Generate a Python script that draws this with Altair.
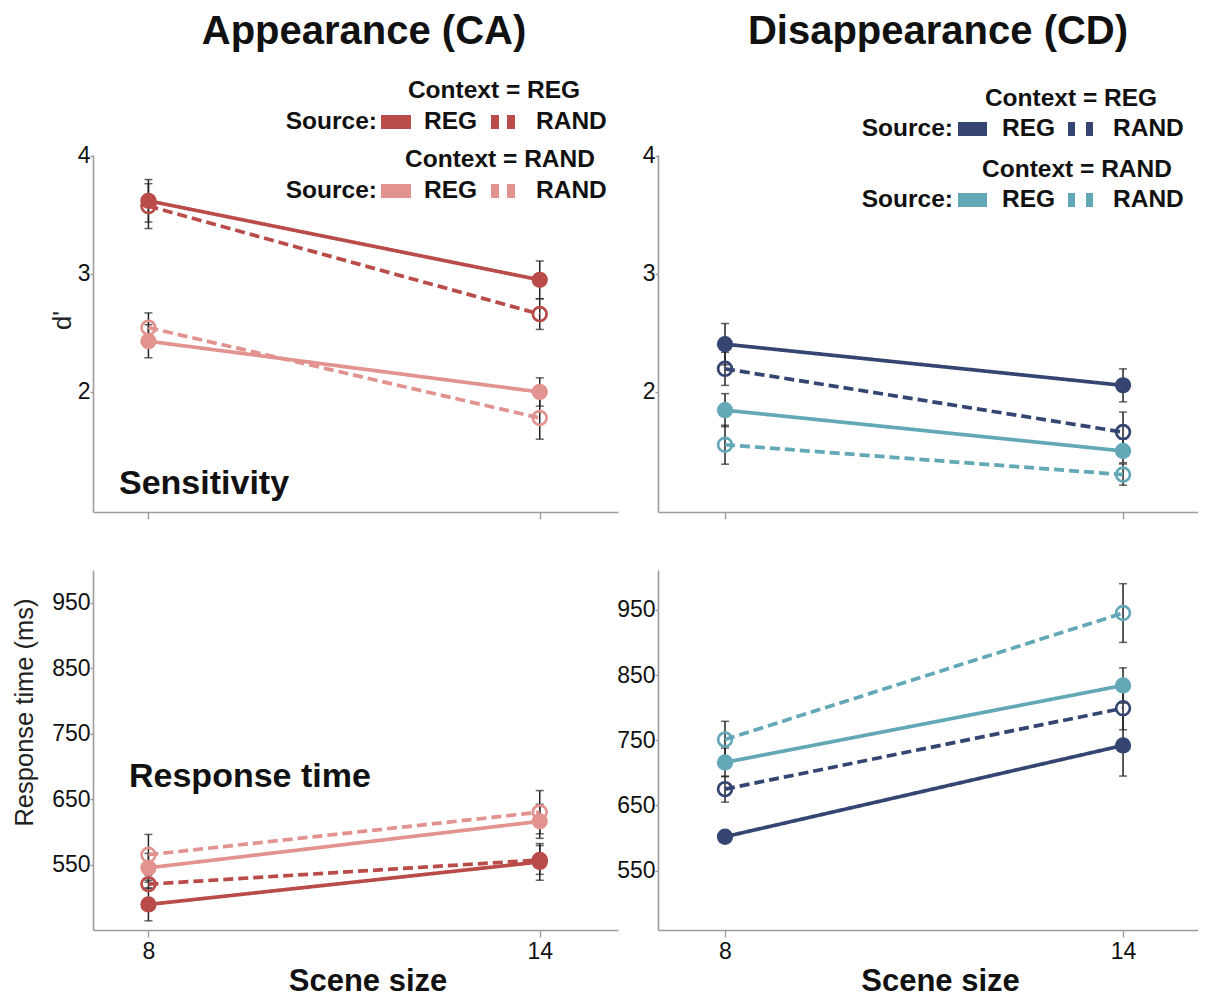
import altair as alt
import pandas as pd

# ---------------- data ----------------
sizes = [8, 14]
contexts = ["REG", "RAND"]
sources = ["REG", "RAND"]

# Appearance (CA) sensitivity d'
ca_d_reg_reg = [3.62, 2.95]
ca_d_reg_reg_se = [0.18, 0.16]
ca_d_reg_rand = [3.575, 2.66]
ca_d_reg_rand_se = [0.19, 0.13]
ca_d_rand_reg = [2.43, 2.00]
ca_d_rand_reg_se = [0.14, 0.12]
ca_d_rand_rand = [2.545, 1.78]
ca_d_rand_rand_se = [0.125, 0.18]

# Disappearance (CD) sensitivity d'
cd_d_reg_reg = [2.405, 2.056]
cd_d_reg_reg_se = [0.175, 0.14]
cd_d_reg_rand = [2.196, 1.66]
cd_d_reg_rand_se = [0.14, 0.17]
cd_d_rand_reg = [1.846, 1.50]
cd_d_rand_reg_se = [0.14, 0.10]
cd_d_rand_rand = [1.553, 1.30]
cd_d_rand_rand_se = [0.165, 0.09]

# Appearance (CA) response time (ms)
ca_rt_reg_reg = [489, 554]
ca_rt_reg_reg_se = [25, 28]
ca_rt_reg_rand = [520, 557]
ca_rt_reg_rand_se = [6, 22]
ca_rt_rand_reg = [545, 616]
ca_rt_rand_reg_se = [22, 26]
ca_rt_rand_rand = [565, 630]
ca_rt_rand_rand_se = [31, 33]

# Disappearance (CD) response time (ms)
cd_rt_reg_reg = [602, 742]
cd_rt_reg_reg_se = [5, 47]
cd_rt_reg_rand = [675, 799]
cd_rt_reg_rand_se = [20, 33]
cd_rt_rand_reg = [716, 834]
cd_rt_rand_reg_se = [22, 27]
cd_rt_rand_rand = [751, 945]
cd_rt_rand_rand_se = [28, 45]

d_ticks = [2, 3, 4]
rt_ticks = [550, 650, 750, 850, 950]

CA_COLORS = ["#b94c49", "#e29390"]
CD_COLORS = ["#334570", "#62a8b7"]

FONT = "Liberation Sans"
AXIS_GRAY = "#a09c9a"
LEG_FS = 24.5


def build_df(series, colors):
    rows = []
    for (ctx, src), (means, ses) in series.items():
        for s, m, e in zip(sizes, means, ses):
            rows.append({"size": s, "context": ctx, "source": src,
                         "series": ctx + "-" + src, "mean": m, "se": e,
                         "col": colors[contexts.index(ctx)]})
    return pd.DataFrame(rows)


one = pd.DataFrame({"k": [0]})


def txt(label, x, y, size, bold=True, align="left"):
    return alt.Chart(one).mark_text(
        text=label, font=FONT, fontSize=size, fontWeight="bold" if bold else "normal",
        align=align, baseline="alphabetic", color="#111"
    ).encode(x=alt.value(x), y=alt.value(y))


def rect(x1, x2, y1, y2, color):
    return alt.Chart(one).mark_rect(color=color).encode(
        x=alt.value(x1), x2=alt.value(x2), y=alt.value(y1), y2=alt.value(y2))


def legend(colors, p):
    layers = []
    for i, ctx in enumerate(contexts):
        c = colors[i]
        base = p["base"][i]
        layers.append(txt("Context = " + ctx, p["ctx_x"][i], base - 30 + p["ctx_dy"], LEG_FS, align="center"))
        layers.append(txt("Source:", p["src_r"], base, LEG_FS, align="right"))
        layers.append(rect(p["sw"][0], p["sw"][1], base - 14, base, c))
        layers.append(txt("REG", p["reg_x"], base, LEG_FS))
        layers.append(rect(p["d1"][0], p["d1"][1], base - 14, base, c))
        layers.append(rect(p["d2"][0], p["d2"][1], base - 14, base, c))
        layers.append(txt("RAND", p["rand_x"], base, LEG_FS))
    return layers


def panel(df, ydom, yticks, xdom, width, height, ytitle, ytitle_y, ytitle_pad, xlabels, extras):
    xs = alt.Scale(domain=xdom, nice=False, zero=False)
    ys = alt.Scale(domain=ydom, nice=False, zero=False)
    xaxis = alt.Axis(values=sizes, labels=xlabels, title="Scene size" if xlabels else None,
                     format="d", grid=False, tickSize=7, labelPadding=3, titlePadding=3,
                     titleX=width / 2 + 12, titleFontSize=31, titleFontWeight="bold",
                     titleFont=FONT, titleColor="#111", labelFontSize=23, labelFont=FONT,
                     labelColor="#111")
    yargs = dict(values=yticks, format="d", grid=False, tickSize=3, labelPadding=0,
                 labelFontSize=23, labelFont=FONT, labelColor="#111",
                 titleFontSize=25.5, titleFontWeight="normal", titleFont=FONT,
                 titleColor="#222", titlePadding=ytitle_pad)
    if ytitle:
        yaxis = alt.Axis(title=ytitle, titleY=ytitle_y, **yargs)
    else:
        yaxis = alt.Axis(title=None, **yargs)
    X = alt.X("size:Q", scale=xs, axis=xaxis)
    Y = alt.Y("mean:Q", scale=ys, axis=yaxis)
    col = alt.Color("col:N", scale=None, legend=None)
    dash = alt.StrokeDash("source:N", scale=alt.Scale(domain=sources, range=[[1, 0], [10, 5]]),
                          legend=None)

    base = alt.Chart(df).transform_calculate(
        lo="datum.mean - datum.se", hi="datum.mean + datum.se")

    bars = base.mark_rule(color="#222", strokeWidth=1.5).encode(
        x=alt.X("size:Q", scale=xs), y=alt.Y("lo:Q", scale=ys), y2="hi:Q")
    cap_lo = base.mark_tick(color="#222", thickness=1.5, size=8, orient="horizontal").encode(
        x=alt.X("size:Q", scale=xs), y=alt.Y("lo:Q", scale=ys))
    cap_hi = base.mark_tick(color="#222", thickness=1.5, size=8, orient="horizontal").encode(
        x=alt.X("size:Q", scale=xs), y=alt.Y("hi:Q", scale=ys))
    lines = base.mark_line(strokeWidth=3.7).encode(
        x=X, y=Y, color=col, strokeDash=dash, detail="series:N")
    filled = base.transform_filter("datum.source == 'REG'").mark_circle(size=265, opacity=1).encode(
        x=alt.X("size:Q", scale=xs), y=alt.Y("mean:Q", scale=ys), color=col)
    hollow = base.transform_filter("datum.source == 'RAND'").mark_point(
        size=190, strokeWidth=2.7, filled=False, opacity=1).encode(
        x=alt.X("size:Q", scale=xs), y=alt.Y("mean:Q", scale=ys), color=col)

    return alt.layer(bars, cap_lo, cap_hi, lines, filled, hollow, *extras).properties(
        width=width, height=height)


ca_d = build_df({("REG", "REG"): (ca_d_reg_reg, ca_d_reg_reg_se),
                 ("REG", "RAND"): (ca_d_reg_rand, ca_d_reg_rand_se),
                 ("RAND", "REG"): (ca_d_rand_reg, ca_d_rand_reg_se),
                 ("RAND", "RAND"): (ca_d_rand_rand, ca_d_rand_rand_se)}, CA_COLORS)
cd_d = build_df({("REG", "REG"): (cd_d_reg_reg, cd_d_reg_reg_se),
                 ("REG", "RAND"): (cd_d_reg_rand, cd_d_reg_rand_se),
                 ("RAND", "REG"): (cd_d_rand_reg, cd_d_rand_reg_se),
                 ("RAND", "RAND"): (cd_d_rand_rand, cd_d_rand_rand_se)}, CD_COLORS)
ca_rt = build_df({("REG", "REG"): (ca_rt_reg_reg, ca_rt_reg_reg_se),
                  ("REG", "RAND"): (ca_rt_reg_rand, ca_rt_reg_rand_se),
                  ("RAND", "REG"): (ca_rt_rand_reg, ca_rt_rand_reg_se),
                  ("RAND", "RAND"): (ca_rt_rand_rand, ca_rt_rand_rand_se)}, CA_COLORS)
cd_rt = build_df({("REG", "REG"): (cd_rt_reg_reg, cd_rt_reg_reg_se),
                  ("REG", "RAND"): (cd_rt_reg_rand, cd_rt_reg_rand_se),
                  ("RAND", "REG"): (cd_rt_rand_reg, cd_rt_rand_reg_se),
                  ("RAND", "RAND"): (cd_rt_rand_rand, cd_rt_rand_rand_se)}, CD_COLORS)

W_L, W_R = 525, 540
H_T, H_B = 357, 360

tl_extras = [txt("Appearance (CA)", 271, -111, 40, align="center"),
             txt("Sensitivity", 26, 339, 34)] + legend(CA_COLORS, {
                 "base": [-26, 43], "ctx_x": [401, 407], "ctx_dy": -1,
                 "src_r": 284, "sw": (288, 318), "reg_x": 331,
                 "d1": (398, 406), "d2": (414, 422), "rand_x": 443})
tr_extras = [txt("Disappearance (CD)", 280, -111, 40, align="center")] + legend(CD_COLORS, {
                 "base": [-19, 52], "ctx_x": [413, 419], "ctx_dy": 0,
                 "src_r": 295, "sw": (300, 329), "reg_x": 344,
                 "d1": (410, 417), "d2": (428, 435), "rand_x": 455})
bl_extras = [txt("Response time", 36, 217, 34)]

tl = panel(ca_d, [0.983, 4.008], d_ticks, [7.15, 15.2], W_L, H_T, "d'", 165, 2, False, tl_extras)
tr = panel(cd_d, [0.983, 4.008], d_ticks, [6.99, 15.13], W_R, H_T, None, 0, 0, False, tr_extras)
bl = panel(ca_rt, [450, 1000], rt_ticks, [7.15, 15.2], W_L, H_B, "Response time (ms)", 142, 14, True, bl_extras)
br = panel(cd_rt, [459, 1011], rt_ticks, [6.99, 15.13], W_R, H_B, None, 0, 0, True, [])

chart = alt.concat(tl, tr, bl, br, columns=2, spacing={"row": 58, "column": 40},
                   bounds="flush").properties(
    padding={"left": 4, "top": 4, "right": 0, "bottom": 0},
    background="white"
).configure_view(stroke=None).configure_axis(
    domainColor=AXIS_GRAY, domainWidth=1.6, tickColor=AXIS_GRAY, tickWidth=1.4
)

chart.save("out.html", embed_options={"renderer": "svg", "actions": False})
